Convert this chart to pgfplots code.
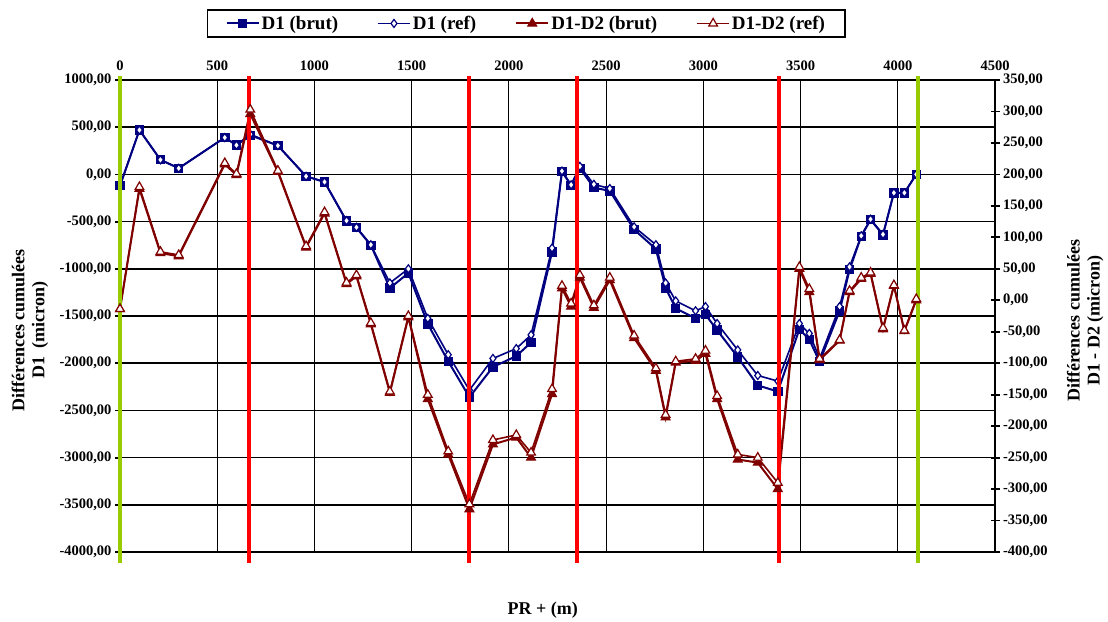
\documentclass[border=0pt]{standalone}
\usepackage{fontspec}
\setmainfont{Liberation Serif}
\usepackage{pgfplots}
\pgfplotsset{compat=1.18}
\usepackage{pgfplotstable}

\definecolor{navyblue}{RGB}{0,0,128}
\definecolor{darkred}{RGB}{128,0,0}
\definecolor{markgreen}{RGB}{153,204,0}
\definecolor{markred}{RGB}{255,0,0}

% PR (m) | D1 brut | D1 ref | D1-D2 brut | D1-D2 ref
\pgfplotstableread{
pr    d1b    d1r    ddb   ddr
0     -120   -120   -14   -14
100   470    470    177   180
208   155    155    75    77
302   65     65     70    72
539   390    390    216   218
599   310    310    199   201
670   415    425    296   303
812   305    305    204   206
957   -20    -20    84    86
1052  -80    -80    138   140
1165  -495   -490   26    28
1216  -565   -560   38    40
1290  -750   -745   -38   -36
1388  -1205  -1150  -147  -145
1483  -1045  -1000  -27   -25
1583  -1585  -1525  -157  -150
1688  -1980  -1910  -245  -240
1797  -2360  -2285  -332  -324
1918  -2040  -1950  -229  -222
2038  -1925  -1845  -218  -214
2114  -1780  -1700  -250  -242
2222  -820   -780   -149  -141
2273  30     35     19    23
2320  -115   -110   -10   -5
2365  65     85     36    40
2437  -140   -105   -12   -8
2519  -175   -150   32    36
2644  -585   -555   -60   -56
2756  -790   -745   -112  -108
2806  -1205  -1150  -186  -182
2858  -1420  -1340  -99   -97
2960  -1525  -1445  -96   -93
3011  -1485  -1400  -85   -80
3071  -1650  -1580  -157  -152
3177  -1935  -1860  -253  -245
3280  -2235  -2130  -258  -250
3383  -2300  -2190  -300  -290
3494  -1640  -1580  50    53
3545  -1750  -1685  13    18
3598  -1985  -1950  -95   -93
3701  -1445  -1400  -64   -63
3752  -1010  -980   13    15
3812  -655   -650   34    36
3860  -480   -475   42    44
3924  -640   -635  -46   -44
3980  -195   -195   23    24
4034  -195   -195  -49   -48
4095  0      0      0     2
}\profil

\pgfplotsset{
  d1brut/.style={navyblue, line width=2pt, mark=square*, mark size=4.2pt,
    mark options={solid, fill=navyblue, line width=1pt}},
  d1ref/.style={navyblue, line width=1.6pt, mark=diamond*, mark size=4pt,
    mark options={solid, fill=white, line width=1.2pt}},
  ddbrut/.style={darkred, line width=2pt, mark=triangle*, mark size=5.2pt,
    mark options={solid, fill=darkred, line width=1pt}},
  ddref/.style={darkred, line width=1.6pt, mark=triangle*, mark size=5pt,
    mark options={solid, fill=white, line width=1.2pt}},
  common/.style={
    at={(0pt,0pt)}, anchor=south west,
    width=875pt, height=472pt, scale only axis,
    xmin=0, xmax=4500,
    tick label style={font=\bfseries\fontsize{14.5}{16}\selectfont},
    label style={font=\bfseries\fontsize{18}{20}\selectfont},
    axis line style={line width=2.2pt, black},
  },
}

\begin{document}
\begin{tikzpicture}
\path[use as bounding box] (-120pt,-69.3pt) rectangle (988pt,552pt);

% left axis: cumulated differences D1
\begin{axis}[
  common,
  ymin=-4000, ymax=1000,
  xtick={0,500,...,4500},
  xticklabels={0,500,1000,1500,2000,2500,3000,3500,4000,4500},
  xticklabel pos=upper,
  xtick style={draw=none},
  xticklabel style={yshift=6pt},
  ytick={-4000,-3500,...,1000},
  yticklabels={{-4000,00},{-3500,00},{-3000,00},{-2500,00},{-2000,00},{-1500,00},{-1000,00},{-500,00},{0,00},{500,00},{1000,00}},
  ytick pos=left,
  ytick align=outside,
  major tick length=5pt,
  ytick style={line width=1.8pt, black},
  xmajorgrids, ymajorgrids,
  x grid style={black, line width=1.1pt},
  y grid style={black, line width=1.6pt},
  ylabel={Différences cumulées\\D1\ \ (micron)},
  ylabel style={at={(rel axis cs:-0.103,0.47)}, anchor=center, align=center},
  xlabel={PR + (m)},
  xlabel style={at={(rel axis cs:0.483,-0.123)}, anchor=center},
]
\addplot[d1brut] table[x=pr, y=d1b] {\profil};
\addplot[d1ref]  table[x=pr, y=d1r] {\profil};
\end{axis}

% right axis: cumulated differences D1 - D2
\begin{axis}[
  common,
  ymin=-400, ymax=350,
  hide x axis,
  axis y line*=right,
  ytick={-400,-350,...,350},
  yticklabels={{-400,00},{-350,00},{-300,00},{-250,00},{-200,00},{-150,00},{-100,00},{-50,00},{0,00},{50,00},{100,00},{150,00},{200,00},{250,00},{300,00},{350,00}},
  ytick align=center,
  major tick length=9pt,
  ytick style={line width=1.8pt, black},
  ylabel={Différences cumulées\\D1 - D2 (micron)},
  ylabel style={at={(rel axis cs:1.103,0.49)}, anchor=center, align=center},
  clip=false,
  legend columns=4,
  legend image code/.code={%
    \draw[mark repeat=2, mark phase=2]
      plot coordinates {(0pt,0pt) (16pt,0pt) (32pt,0pt)};},
  legend style={
    at={(rel axis cs:0.0994,1.1498)}, anchor=north west,
    draw=black, line width=1.4pt,
    font=\bfseries\fontsize{19}{22}\selectfont,
    inner xsep=18pt, inner ysep=5pt,
    nodes={inner xsep=2pt, inner ysep=1pt},
    /tikz/every even column/.append style={column sep=37pt},
  },
]
\addlegendimage{d1brut}
\addlegendentry{D1 (brut)}
\addlegendimage{d1ref}
\addlegendentry{D1 (ref)}
\addplot[ddbrut] table[x=pr, y=ddb] {\profil};
\addlegendentry{D1-D2 (brut)}
\addplot[ddref]  table[x=pr, y=ddr] {\profil};
\addlegendentry{D1-D2 (ref)}

% section boundaries
\addplot[markgreen, line width=4pt, forget plot] coordinates {(0,356) (0,-418)};
\addplot[markgreen, line width=4pt, forget plot] coordinates {(4105,356) (4105,-418)};
\addplot[markred, line width=4pt, forget plot] coordinates {(663,356) (663,-418)};
\addplot[markred, line width=4pt, forget plot] coordinates {(1795,356) (1795,-418)};
\addplot[markred, line width=4pt, forget plot] coordinates {(2348,356) (2348,-418)};
\addplot[markred, line width=4pt, forget plot] coordinates {(3391,356) (3391,-418)};
\end{axis}
\end{tikzpicture}
\end{document}
